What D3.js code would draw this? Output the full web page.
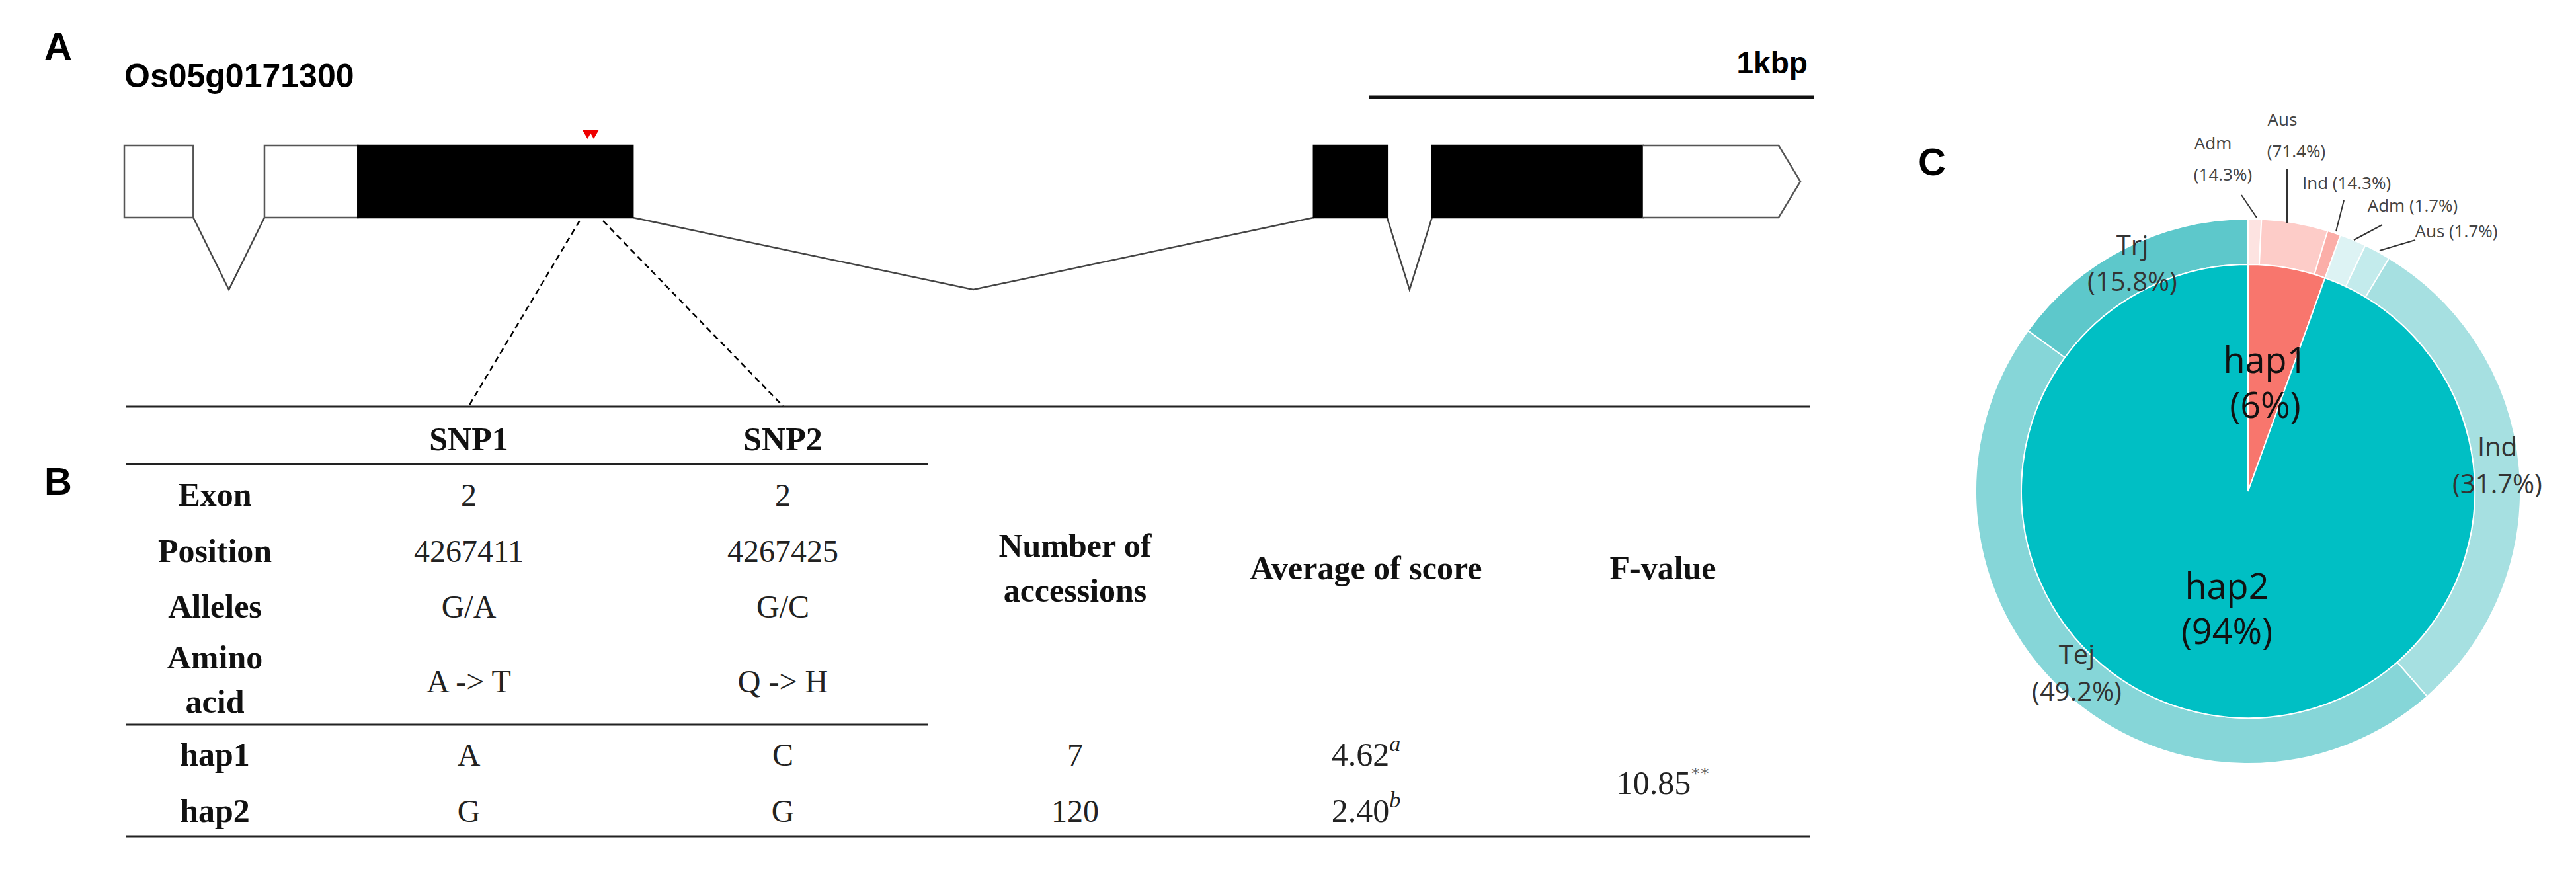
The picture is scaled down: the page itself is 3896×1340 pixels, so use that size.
<!DOCTYPE html>
<html>
<head>
<meta charset="utf-8">
<script src="https://cdn.jsdelivr.net/npm/d3@7"></script>
<style>
  body { margin: 0; background: #fff; }
  svg { display: block; }
</style>
</head>
<body>
<svg id="fig" width="3896" height="1340"></svg>
<script>
// gene model (bp from transcription start)
const geneName = "Os05g0171300";
const exons = [
  { start: 0, end: 155, type: "utr" },
  { start: 315, end: 525, type: "utr" },
  { start: 525, end: 1143, type: "cds" },
  { start: 2673, end: 2838, type: "cds" },
  { start: 2939, end: 3413, type: "cds" },
  { start: 3413, end: 3767, type: "utr3" }
];
const introns = [[155, 315], [1143, 2673], [2838, 2939]];
const snpPos = [1041, 1055];
const scaleBar = [2798, 3798];

// table
const snpNames = ["SNP1", "SNP2"];
const rowLabels = ["Exon", "Position", "Alleles", "Amino acid"];
const snp1Vals = ["2", "4267411", "G/A", "A -> T"];
const snp2Vals = ["2", "4267425", "G/C", "Q -> H"];
const haps = ["hap1", "hap2"];
const hapSnp1 = ["A", "G"];
const hapSnp2 = ["C", "G"];
const hapCounts = [7, 120];
const hapScores = ["4.62", "2.40"];
const hapLetters = ["a", "b"];
const fValue = "10.85";

// pie
const innerLabels = ["hap1", "hap2"];
const innerPct = ["6%", "94%"];
const innerColors = ["#F8766D", "#00BFC4"];
const outerGroups = ["Adm", "Aus", "Ind", "Adm", "Aus", "Ind", "Tej", "Trj"];
const outerCounts = [1, 5, 1, 2, 2, 38, 59, 19];
const outerPct = ["14.3%", "71.4%", "14.3%", "1.7%", "1.7%", "31.7%", "49.2%", "15.8%"];
const outerColors = ["#FDE3E1", "#FDCCC8", "#FBAEA8", "#DDF3F4", "#C3EBEC", "#A6E0E1", "#86D6D8", "#5DC8CB"];

const svg = d3.select("#fig");
svg.append("rect").attr("width", 3896).attr("height", 1340).attr("fill", "#fff");

const sans = "Liberation Sans, Arial, sans-serif";
const serif = "Liberation Serif, DejaVu Serif, serif";
const pieFont = "Open Sans, Noto Sans, sans-serif";

// ---- panel A ----
const x = d3.scaleLinear().domain([0, 3767]).range([188, 2723]);
const yTop = 220, yBot = 329, yMid = (yTop + yBot) / 2;

svg.append("text").attr("x", 67).attr("y", 90).attr("font-family", sans)
  .attr("font-weight", "bold").attr("font-size", 58).text("A");
svg.append("text").attr("x", 188).attr("y", 132).attr("font-family", sans)
  .attr("font-weight", "bold").attr("font-size", 50).text(geneName);

svg.append("line").attr("x1", x(scaleBar[0])).attr("x2", x(scaleBar[1]))
  .attr("y1", 147).attr("y2", 147).attr("stroke", "#111").attr("stroke-width", 5);
svg.append("text").attr("x", x(scaleBar[1]) - 10).attr("y", 111).attr("text-anchor", "end")
  .attr("font-family", sans).attr("font-weight", "bold").attr("font-size", 46).text("1kbp");

introns.forEach(([s, e]) => {
  svg.append("polyline")
    .attr("points", [[x(s), yBot], [(x(s) + x(e)) / 2, 438], [x(e), yBot]].map(p => p.join(",")).join(" "))
    .attr("fill", "none").attr("stroke", "#444").attr("stroke-width", 2.5);
});

exons.forEach(d => {
  if (d.type === "utr3") {
    const x0 = x(d.start), x1 = x(d.end);
    svg.append("path")
      .attr("d", `M${x0},${yTop}H${x1 - 33}L${x1},${yMid}L${x1 - 33},${yBot}H${x0}`)
      .attr("fill", "#fff").attr("stroke", "#555").attr("stroke-width", 2.5);
  } else {
    svg.append("rect").attr("x", x(d.start)).attr("y", yTop)
      .attr("width", x(d.end) - x(d.start)).attr("height", yBot - yTop)
      .attr("fill", d.type === "cds" ? "#000" : "#fff")
      .attr("stroke", d.type === "cds" ? "#000" : "#555").attr("stroke-width", 2.5);
  }
});

snpPos.forEach(p => {
  svg.append("path").attr("d", `M${x(p) - 8},196L${x(p) + 8},196L${x(p)},210Z`).attr("fill", "#e00");
});

// ---- panel B: table ----
const colLabel = 325, colSnp = [709, 1184], colNum = 1626, colAvg = 2066, colF = 2515;
const tLeft = 190, tRight = 2738, tMid = 1404;
const lines = [[615, tRight], [702, tMid], [1096, tMid], [1265, tRight]];
lines.forEach(([y, r]) => svg.append("line").attr("x1", tLeft).attr("x2", r)
  .attr("y1", y).attr("y2", y).attr("stroke", "#222").attr("stroke-width", 3));

// dashed connectors
[[snpPos[0], colSnp[0]], [snpPos[1], colSnp[1]]].forEach(([p, c], i) => {
  svg.append("line").attr("x1", x(p) + (i ? 14 : -12)).attr("y1", 334).attr("x2", c).attr("y2", 614)
    .attr("stroke", "#000").attr("stroke-width", 2.5).attr("stroke-dasharray", "9,6");
});

svg.append("text").attr("x", 67).attr("y", 748).attr("font-family", sans)
  .attr("font-weight", "bold").attr("font-size", 58).text("B");

function txt(xx, yy, s, bold, size = 48, fill = "#222") {
  return svg.append("text").attr("x", xx).attr("y", yy).attr("text-anchor", "middle")
    .attr("font-family", serif).attr("font-weight", bold ? "bold" : "normal")
    .attr("font-size", size).attr("fill", bold ? "#111" : fill).text(s);
}

snpNames.forEach((s, i) => txt(colSnp[i], 681, s, true, 50));
const rowY = [765, 850, 934, 1047];
rowLabels.forEach((l, i) => {
  if (l === "Amino acid") {
    txt(colLabel, 1011, "Amino", true, 50);
    txt(colLabel, 1078, "acid", true, 50);
  } else txt(colLabel, rowY[i], l, true, 50);
  txt(colSnp[0], rowY[i], snp1Vals[i], false);
  txt(colSnp[1], rowY[i], snp2Vals[i], false);
});

txt(colNum, 842, "Number of", true, 50);
txt(colNum, 910, "accessions", true, 50);
txt(colAvg, 876, "Average of  score", true, 50);
txt(colF, 876, "F-value", true, 50);

const hapY = [1158, 1243];
haps.forEach((h, i) => {
  txt(colLabel, hapY[i], h, true, 50);
  txt(colSnp[0], hapY[i], hapSnp1[i], false);
  txt(colSnp[1], hapY[i], hapSnp2[i], false);
  txt(colNum, hapY[i], hapCounts[i], false);
  const t = txt(colAvg, hapY[i], hapScores[i], false, 50);
  t.append("tspan").attr("dy", -22).attr("font-style", "italic").attr("font-size", 34).text(hapLetters[i]);
});
const ft = txt(colF, 1201, fValue, false, 50);
ft.append("tspan").attr("dy", -22).attr("font-size", 28).attr("fill", "#666").text("**");

// ---- panel C: pie ----
svg.append("text").attr("x", 2901).attr("y", 265).attr("font-family", sans)
  .attr("font-weight", "bold").attr("font-size", 58).text("C");

const cx = 3400, cy = 743, rIn = 343, rOut = 412;
const g = svg.append("g").attr("transform", `translate(${cx},${cy})`);
const pie = d3.pie().sort(null).value(d => d);
const innerArcs = pie(hapCounts);
const outerArcs = pie(outerCounts);

g.selectAll(".outer").data(outerArcs).enter().append("path")
  .attr("d", d3.arc().innerRadius(rIn).outerRadius(rOut))
  .attr("fill", (d, i) => outerColors[i]).attr("stroke", "#fff").attr("stroke-width", 2);
g.selectAll(".inner").data(innerArcs).enter().append("path")
  .attr("d", d3.arc().innerRadius(0).outerRadius(rIn))
  .attr("fill", (d, i) => innerColors[i]).attr("stroke", "#fff").attr("stroke-width", 2);

// haplotype labels
const hapLabelPos = [[3426, 564, 632], [3368, 906, 974]];
innerLabels.forEach((l, i) => {
  const [lx, y1, y2] = hapLabelPos[i];
  [l, "(" + innerPct[i] + ")"].forEach((s, k) => svg.append("text").attr("x", lx).attr("y", k ? y2 : y1)
    .attr("text-anchor", "middle").attr("font-family", pieFont).attr("font-size", 54)
    .attr("fill", "#111").text(s));
});

// big outer labels (two lines)
const bigLabels = [[5, 3777, 690, 746], [6, 3141, 1004, 1060], [7, 3225, 385, 440]];
bigLabels.forEach(([i, lx, y1, y2]) => {
  svg.append("text").attr("x", lx).attr("y", y1).attr("text-anchor", "middle")
    .attr("font-family", pieFont).attr("font-size", 40).attr("fill", "#333").text(outerGroups[i]);
  svg.append("text").attr("x", lx).attr("y", y2).attr("text-anchor", "middle")
    .attr("font-family", pieFont).attr("font-size", 40).attr("fill", "#333").text("(" + outerPct[i] + ")");
});

// small labels with leader lines
const smallLabels = [
  { i: 0, lines: [[3347, 226], [3362, 273]], two: true, leader: [[3390, 295], [3413, 329]] },
  { i: 1, lines: [[3452, 190], [3473, 238]], two: true, leader: [[3459, 256], [3459, 338]] },
  { i: 2, lines: [[3549, 286]], leader: [[3545, 303], [3533, 350]] },
  { i: 3, lines: [[3649, 320]], leader: [[3603, 340], [3560, 363]] },
  { i: 4, lines: [[3715, 359]], leader: [[3653, 363], [3599, 379]] }
];
smallLabels.forEach(s => {
  if (s.two) {
    svg.append("text").attr("x", s.lines[0][0]).attr("y", s.lines[0][1]).attr("text-anchor", "middle")
      .attr("font-family", pieFont).attr("font-size", 26).attr("fill", "#444").text(outerGroups[s.i]);
    svg.append("text").attr("x", s.lines[1][0]).attr("y", s.lines[1][1]).attr("text-anchor", "middle")
      .attr("font-family", pieFont).attr("font-size", 26).attr("fill", "#444").text("(" + outerPct[s.i] + ")");
  } else {
    svg.append("text").attr("x", s.lines[0][0]).attr("y", s.lines[0][1]).attr("text-anchor", "middle")
      .attr("font-family", pieFont).attr("font-size", 26).attr("fill", "#444")
      .text(outerGroups[s.i] + " (" + outerPct[s.i] + ")");
  }
  svg.append("line").attr("x1", s.leader[0][0]).attr("y1", s.leader[0][1])
    .attr("x2", s.leader[1][0]).attr("y2", s.leader[1][1]).attr("stroke", "#333").attr("stroke-width", 2);
});
</script>
</body>
</html>
